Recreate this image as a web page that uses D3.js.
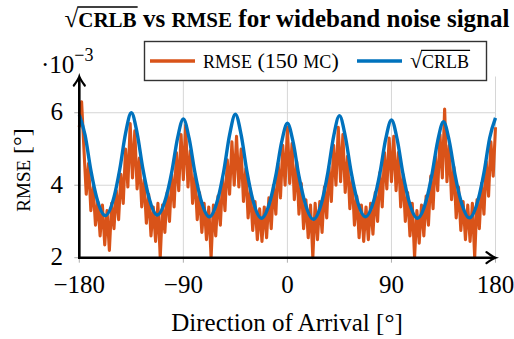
<!DOCTYPE html>
<html>
<head>
<meta charset="utf-8">
<script src="https://cdn.jsdelivr.net/npm/d3@7"></script>
<style>
body { margin: 0; background: #fff; }
svg { display: block; font-family: "Liberation Serif", "Times New Roman", serif; }
</style>
</head>
<body>
<div id="chart"></div>
<script>
// Data (values in units of 1e-3 degrees)
var xTicks = [-180, -90, 0, 90, 180];
var yTicks = [2, 4, 6];

var crlbDeg = [-180, -175, -170, -165, -157.5, -150, -145, -140, -135, -130, -125, -120, -112.5, -105, -100, -95,
    -90, -85, -80, -75, -67.5, -60, -55, -50, -45, -40, -35, -30, -22.5, -15, -10, -5,
    0, 5, 10, 15, 22.5, 30, 35, 40, 45, 50, 55, 60, 67.5, 75, 80, 85,
    90, 95, 100, 105, 112.5, 120, 125, 130, 135, 140, 145, 150, 157.5, 165, 170, 175, 180];
var crlbVal = [5.94, 5.38, 4.41, 3.66, 3.16, 3.67, 4.44, 5.43, 6.00, 5.44, 4.45, 3.69, 3.18, 3.66, 4.37, 5.30,
    5.83, 5.29, 4.35, 3.62, 3.13, 3.64, 4.40, 5.39, 5.96, 5.39, 4.38, 3.61, 3.09, 3.56, 4.27, 5.19,
    5.71, 5.18, 4.25, 3.54, 3.06, 3.57, 4.35, 5.35, 5.92, 5.36, 4.39, 3.63, 3.13, 3.61, 4.33, 5.27,
    5.80, 5.26, 4.31, 3.58, 3.09, 3.57, 4.29, 5.22, 5.75, 5.22, 4.29, 3.58, 3.10, 3.60, 4.34, 5.31, 5.86];

// RMSE sampled every 2 degrees from -180 to 180
var rmseStart = -180, rmseStep = 2;
var rmseVal = [
    5.6, 6.3, 5.0, 3.75, 4.6, 3.3, 3.95, 2.9, 3.55, 2.6, 3.45, 2.35, 3.3, 2.2, 3.5, 2.8, 3.85, 3.05, 4.3, 3.5, 5.0, 3.95, 5.7,
    4.2, 5.5, 3.9, 4.75, 3.4, 4.15, 2.95, 3.75, 2.6, 3.4, 2.45, 3.5, 2.0, 3.45, 2.7, 3.8, 3.0, 4.3, 3.4, 4.9, 3.85, 5.4,
    4.15, 5.65, 3.95, 4.95, 3.5, 4.3, 3.05, 3.8, 2.7, 3.5, 2.5, 3.4, 2.0, 3.45, 2.6, 3.7, 2.9, 4.2, 3.3, 4.7, 3.75, 5.2, 4.0,
    5.35, 3.95, 5.0, 3.55, 4.45, 3.1, 3.9, 2.75, 3.55, 2.5, 3.35, 2.45, 3.4, 2.55, 3.65, 2.8, 4.0, 3.2, 4.6, 3.65, 5.1, 4.0,
    5.6, 4.05, 5.15, 3.6, 4.65, 3.2, 4.05, 2.8, 3.6, 2.55, 3.45, 2.0, 3.5, 2.5, 3.55, 2.7, 3.95, 3.1, 4.5, 3.55, 5.1, 4.0, 5.6,
    4.1, 5.4, 3.8, 4.8, 3.35, 4.2, 2.9, 3.7, 2.55, 3.45, 2.45, 3.4, 2.5, 3.5, 2.65, 3.8, 3.0, 4.35, 3.4, 4.9, 3.9, 5.3,
    4.1, 5.35, 3.85, 4.9, 3.4, 4.3, 3.0, 3.8, 2.6, 3.5, 2.0, 3.3, 2.4, 3.45, 2.6, 3.7, 2.9, 4.25, 3.35, 4.8, 3.85, 5.4, 4.2,
    6.1, 4.1, 5.1, 3.6, 4.5, 3.1, 3.95, 2.75, 3.55, 2.5, 3.45, 2.45, 3.5, 2.0, 3.6, 2.8, 4.05, 3.2, 4.65, 3.7, 5.2, 4.25, 5.6];

var orange = "#D95319", blue = "#0072BD";
var width = 514, height = 339;
var plot = { left: 79.3, right: 495.5, top: 76.5, bottom: 257.7 };

var svg = d3.select("#chart").append("svg")
    .attr("width", width)
    .attr("height", height);

var x = d3.scaleLinear().domain([-180, 180]).range([plot.left, plot.right]);
var y = d3.scaleLinear().domain([2, 7]).range([plot.bottom, plot.top]);

// grid
svg.append("g").selectAll("line")
    .data(xTicks.slice(1))
    .enter().append("line")
    .attr("x1", d => x(d)).attr("x2", d => x(d))
    .attr("y1", y(2)).attr("y2", y(7))
    .attr("stroke", "#d6d6d6").attr("stroke-width", 1);
svg.append("g").selectAll("line")
    .data(yTicks.slice(1))
    .enter().append("line")
    .attr("x1", x(-180)).attr("x2", x(180))
    .attr("y1", d => y(d)).attr("y2", d => y(d))
    .attr("stroke", "#d6d6d6").attr("stroke-width", 1);

// small tick marks
svg.append("g").selectAll("line")
    .data(xTicks)
    .enter().append("line")
    .attr("x1", d => x(d)).attr("x2", d => x(d))
    .attr("y1", y(2)).attr("y2", y(2) + 5)
    .attr("stroke", "#999").attr("stroke-width", 0.8);
svg.append("g").selectAll("line")
    .data(yTicks)
    .enter().append("line")
    .attr("x1", x(-180) - 5).attr("x2", x(-180))
    .attr("y1", d => y(d)).attr("y2", d => y(d))
    .attr("stroke", "#999").attr("stroke-width", 0.8);

// series
var rmsePts = rmseVal.map((v, i) => [rmseStart + i * rmseStep, v]);
svg.append("path")
    .datum(rmsePts)
    .attr("fill", "none")
    .attr("stroke", orange)
    .attr("stroke-width", 3.1)
    .attr("stroke-linejoin", "round")
    .attr("d", d3.line().x(d => x(d[0])).y(d => y(d[1])));

var crlbPts = crlbDeg.map((d, i) => [d, crlbVal[i]]);
svg.append("path")
    .datum(crlbPts)
    .attr("fill", "none")
    .attr("stroke", blue)
    .attr("stroke-width", 3.4)
    .attr("d", d3.line().curve(d3.curveMonotoneX).x(d => x(d[0])).y(d => y(d[1])));

// axes with arrow heads
function arrowHead(g, tx, ty, angle) {
    g.append("path")
        .attr("d", "M-9,-5.5 Q-3,-1 0,0 Q-3,1 -9,5.5")
        .attr("fill", "none")
        .attr("stroke", "#000")
        .attr("stroke-width", 2.2)
        .attr("stroke-linecap", "round")
        .attr("transform", "translate(" + tx + "," + ty + ") rotate(" + angle + ")");
}
var axes = svg.append("g");
axes.append("line")
    .attr("x1", x(-180)).attr("x2", x(180) - 1)
    .attr("y1", y(2)).attr("y2", y(2))
    .attr("stroke", "#000").attr("stroke-width", 2.6);
axes.append("line")
    .attr("x1", x(-180)).attr("x2", x(-180))
    .attr("y1", y(2) + 1.3).attr("y2", y(7) + 1)
    .attr("stroke", "#000").attr("stroke-width", 2.6);
arrowHead(axes, x(180), y(2), 0);
arrowHead(axes, x(-180), y(7), -90);

// tick labels
svg.append("g").selectAll("text")
    .data(xTicks)
    .enter().append("text")
    .attr("x", d => x(d))
    .attr("y", 293)
    .attr("text-anchor", "middle")
    .style("font-size", "25px")
    .text(d => d < 0 ? "\u2212" + Math.abs(d) : d);
svg.append("g").selectAll("text")
    .data(yTicks)
    .enter().append("text")
    .attr("x", 63)
    .attr("y", d => y(d) + 7.5)
    .attr("text-anchor", "end")
    .style("font-size", "25px")
    .text(d => d);

// scale factor
var sc = svg.append("text").attr("x", 41).attr("y", 73).style("font-size", "25px");
sc.append("tspan").text("\u00b710");
sc.append("tspan").attr("dy", -12).style("font-size", "18px").text("\u22123");

// axis labels
svg.append("text")
    .attr("x", 287)
    .attr("y", 331)
    .attr("text-anchor", "middle")
    .style("font-size", "25px")
    .text("Direction of Arrival [\u00b0]");
var yl = svg.append("text")
    .attr("transform", "translate(30,170) rotate(-90)")
    .attr("text-anchor", "middle")
    .style("font-size", "24px");
yl.append("tspan").style("font-size", "19px").text("RMSE");
yl.append("tspan").text(" [\u00b0]");

// draws the radical's bar over a tspan using its box
function overline(textSel, tspanSel, baseline, size) {
    var b = tspanSel.node().getBBox();
    textSel.select(function () { return this.parentNode; }).append("line")
        .attr("x1", b.x - 1).attr("x2", b.x + b.width + 1)
        .attr("y1", baseline - size * 0.8).attr("y2", baseline - size * 0.8)
        .attr("stroke", "#000").attr("stroke-width", size * 0.055);
}

// title
var title = svg.append("text")
    .attr("x", 287).attr("y", 27)
    .attr("text-anchor", "middle")
    .style("font-size", "25px")
    .style("font-weight", "bold");
title.append("tspan").text("\u221a");
var tCrlb = title.append("tspan").style("font-size", "21px").text("CRLB");
title.append("tspan").text(" vs ");
title.append("tspan").style("font-size", "21px").text("RMSE");
title.append("tspan").text(" for wideband noise signal");
overline(title, tCrlb, 27, 25);

// legend
var leg = svg.append("g");
leg.append("rect")
    .attr("x", 144.5).attr("y", 41.5)
    .attr("width", 342).attr("height", 39)
    .attr("fill", "#fff")
    .attr("stroke", "#333").attr("stroke-width", 1.4);
leg.append("line")
    .attr("x1", 150).attr("x2", 195).attr("y1", 61).attr("y2", 61)
    .attr("stroke", orange).attr("stroke-width", 3.4);
leg.append("line")
    .attr("x1", 357).attr("x2", 402).attr("y1", 61).attr("y2", 61)
    .attr("stroke", blue).attr("stroke-width", 3.4);
var l1 = leg.append("text").attr("x", 203).attr("y", 68).style("font-size", "22px");
l1.append("tspan").style("font-size", "18px").text("RMSE");
l1.append("tspan").text(" (150 ");
l1.append("tspan").style("font-size", "18px").text("MC");
l1.append("tspan").text(")");
var l2 = leg.append("text").attr("x", 410).attr("y", 68).style("font-size", "22px");
l2.append("tspan").text("\u221a");
var lCrlb = l2.append("tspan").style("font-size", "18px").text("CRLB");
overline(l2, lCrlb, 68, 22);
</script>
</body>
</html>
